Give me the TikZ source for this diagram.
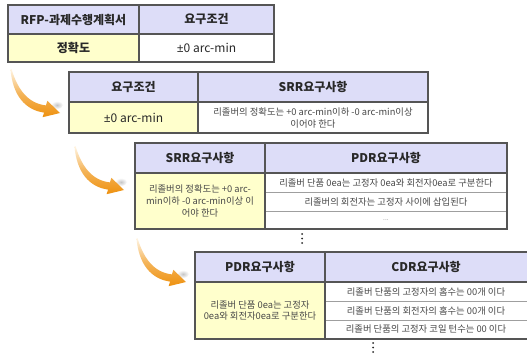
\documentclass[tikz,border=0pt]{standalone}
\usepackage{fontspec}
\setmainfont{Noto Sans CJK KR}
\newfontfamily\latinfont{Noto Sans}
\definecolor{hdr}{RGB}{221,221,248}
\definecolor{ylw}{RGB}{255,255,204}
\definecolor{bord}{RGB}{85,85,85}
\definecolor{orng}{RGB}{238,145,15}
\definecolor{orngpale}{RGB}{255,246,230}
\definecolor{txt}{RGB}{40,40,40}
\tikzset{
  hdrtxt/.style={font=\bfseries\fontsize{9}{11}\selectfont, inner sep=0pt, text=txt},
  bigtxt/.style={font=\fontsize{9}{11}\selectfont, inner sep=0pt, text=txt},
  smalltxt/.style={font=\fontsize{7}{9}\selectfont, align=center, inner sep=0pt, text=txt!85},
  tblframe/.style={draw=bord, line width=0.8pt},
  rowline/.style={draw=gray!75, line width=0.5pt},
  hdrfill/.style={fill=hdr},
  ylwfill/.style={fill=ylw},
  orangearrow/.pic={
    \shade[inner color=gray!45, outer color=white] (46,36) ellipse [x radius=6, y radius=4];
    \shade[top color=orngpale, bottom color=orng, middle color=orng!65!orngpale]
      (-0.5,0) -- (0.5,0) .. controls (7,22) and (18,34.5) .. (34.9,36.4)
      -- (36.4,31.8) -- (49,44) -- (31.6,48.2) -- (33.1,43.6)
      .. controls (14,41) and (1.5,26) .. (-0.5,0) -- cycle;
  }
}
\begin{document}
\begin{tikzpicture}[x=0.75pt,y=-0.75pt]
\useasboundingbox[fill=white] (0,0) rectangle (527,353);

% ---------- table 1 ----------
\path[hdrfill] (8,5) rectangle (274,34);
\path[ylwfill] (8,34) rectangle (139,62);
\draw[tblframe] (8,5) rectangle (274,62);
\draw[tblframe] (8,34) -- (274,34);
\draw[tblframe] (139,5) -- (139,62);
\node[hdrtxt] (t1h1) at (73.5,19.5) {RFP-과제수행계획서};
\node[hdrtxt] (t1h2) at (206.5,19.5) {요구조건};
\node[hdrtxt] (t1c1) at (73.5,48) {정확도};
\node[bigtxt] (t1c2) at (206.5,48) {{\latinfont ±}0 arc-min};

% ---------- table 2 ----------
\path[hdrfill] (69,72) rectangle (428,102);
\path[ylwfill] (69,102) rectangle (198,133);
\draw[tblframe] (69,72) rectangle (428,133);
\draw[tblframe] (69,102) -- (428,102);
\draw[tblframe] (198,72) -- (198,133);
\node[hdrtxt] (t2h1) at (133.5,87) {요구조건};
\node[hdrtxt] (t2h2) at (313,87) {SRR요구사항};
\node[bigtxt] (t2c1) at (133.5,117.5) {{\latinfont ±}0 arc-min};
\node[smalltxt] (t2c2) at (313,117.5) {리졸버의 정확도는 +0 arc-min이하 -0 arc-min이상\\이어야 한다};

% ---------- table 3 ----------
\path[hdrfill] (135,143) rectangle (507,173);
\path[ylwfill] (135,173) rectangle (265,229);
\draw[rowline] (265,192.5) -- (507,192.5);
\draw[rowline] (265,211) -- (507,211);
\draw[tblframe] (135,143) rectangle (507,229);
\draw[tblframe] (135,173) -- (507,173);
\draw[tblframe] (265,143) -- (265,229);
\node[hdrtxt] (t3h1) at (200,158) {SRR요구사항};
\node[hdrtxt] (t3h2) at (386,158) {PDR요구사항};
\node[smalltxt] (t3c1) at (200,201) {리졸버의 정확도는 +0 arc-\\min이하 -0 arc-min이상 이\\어야 한다};
\node[smalltxt] (t3r1) at (386,183) {리졸버 단품 0ea는 고정자 0ea와 회전자0ea로 구분한다};
\node[smalltxt] (t3r2) at (386,202) {리졸버의 회전자는 고정자 사이에 삽입된다};
\node[smalltxt, font=\fontsize{5}{6}\selectfont, text=gray] (t3r3) at (386,220) {...};
\fill[txt] (302,234) circle [radius=1] (302,238.5) circle [radius=1] (302,243) circle [radius=1];

% ---------- table 4 ----------
\path[hdrfill] (195,252) rectangle (530,282);
\path[ylwfill] (195,282) rectangle (325,339);
\draw[rowline] (325,301) -- (530,301);
\draw[rowline] (325,320) -- (530,320);
\draw[tblframe] (195,252) rectangle (530,339);
\draw[tblframe] (195,282) -- (530,282);
\draw[tblframe] (325,252) -- (325,339);
\node[hdrtxt] (t4h1) at (260,267) {PDR요구사항};
\node[hdrtxt] (t4h2) at (426,267) {CDR요구사항};
\node[smalltxt, font=\fontsize{7}{8.5}\selectfont] (t4c1) at (260,310.5) {리졸버 단품 0ea는 고정자\\0ea와 회전자0ea로 구분한다};
\node[smalltxt] (t4r1) at (426,291.5) {리졸버 단품의 고정자의 홈수는 00개 이다};
\node[smalltxt] (t4r2) at (426,310.5) {리졸버 단품의 회전자의 홈수는 00개 이다};
\node[smalltxt] (t4r3) at (426,329.5) {리졸버 단품의 고정자 코일 턴수는 00 이다};
\fill[txt] (373,343) circle [radius=1] (373,347.5) circle [radius=1] (373,352) circle [radius=1];

% ---------- arrows ----------
\pic at (11,69) {orangearrow};
\pic at (75,146) {orangearrow};
\pic at (137,238) {orangearrow};
\end{tikzpicture}
\end{document}
